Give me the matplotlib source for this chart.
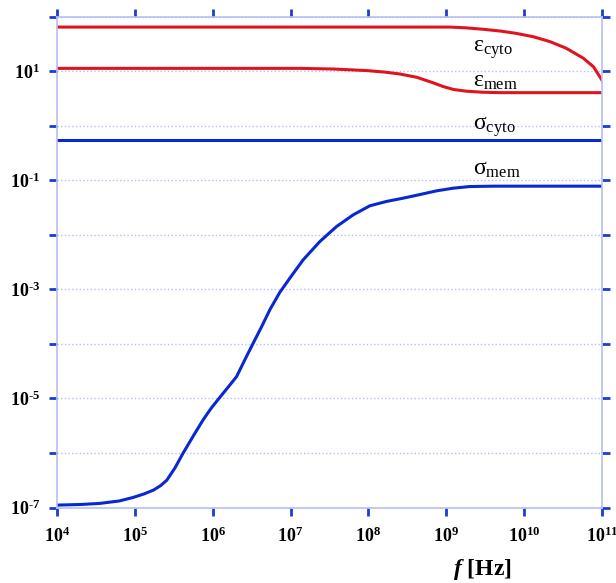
import numpy as np
import matplotlib
matplotlib.use("Agg")
import matplotlib.pyplot as plt

plt.rcParams['mathtext.fontset'] = 'custom'
plt.rcParams['mathtext.rm'] = 'Liberation Serif'
plt.rcParams['mathtext.it'] = 'Liberation Serif:italic'
plt.rcParams['mathtext.bf'] = 'Liberation Serif:bold'
plt.rcParams['mathtext.bfit'] = 'Liberation Serif:italic:bold'
plt.rcParams['font.family'] = 'Liberation Serif'

# values (log10 of frequency in Hz)
lf_eps_cyto = [4.0, 8.0, 9.05, 9.25, 9.47, 9.70, 9.90, 10.12, 10.33, 10.54, 10.76, 10.89, 11.0]
eps_cyto = [64, 64, 64, 62, 58.4, 54, 49, 42.5, 34.7, 26.2, 17.2, 12.0, 6.8]

lf_eps_mem = [4.0, 7.12, 7.55, 7.98, 8.20, 8.40, 8.62, 8.83, 8.96, 9.09, 9.26, 9.47, 9.69, 11.0]
eps_mem = [11.2, 11.2, 10.9, 10.2, 9.6, 8.85, 7.7, 6.1, 5.2, 4.6, 4.27, 4.09, 4.02, 4.02]

lf_sig_cyto = [4.0, 11.0]
sig_cyto = [0.54, 0.54]

lf_sig_mem = [4.0, 4.3, 4.55, 4.8, 4.98, 5.12, 5.24, 5.33, 5.41, 5.515, 5.621, 5.75,
              5.878, 5.98, 6.092, 6.2, 6.307, 6.41, 6.521, 6.63, 6.734, 6.86, 6.991,
              7.162, 7.376, 7.59, 7.804, 8.018, 8.232, 8.446, 8.66, 8.874, 9.088, 9.30,
              9.6, 11.0]
lsig_mem = [-6.956, -6.945, -6.925, -6.88, -6.815, -6.75, -6.68, -6.60, -6.50, -6.275,
            -6.0, -5.69, -5.39, -5.18, -4.98, -4.79, -4.60, -4.30, -3.985, -3.68,
            -3.375, -3.06, -2.795, -2.46, -2.125, -1.85, -1.636, -1.47, -1.39, -1.33,
            -1.264, -1.196, -1.147, -1.117, -1.11, -1.11]

x_pows = list(range(4, 12))
y_pows = list(range(-7, 3))

labels = [r'$\mathrm{ε_{cyto}}$', r'$\mathrm{ε_{mem}}$', r'$\mathrm{σ_{cyto}}$', r'$\mathrm{σ_{mem}}$']
label_ly = [1.355, 0.714, -0.079, -0.903]
label_lx = 9.34


def sup(p):
    s = str(p).replace('-', '\u2010')
    return r'$\mathbf{10^{%s}}$' % s


red = '#e0141e'
blue = '#0a28d2'
spine_col = '#b4c0f4'
tick_col = '#1e3cd2'

fig = plt.figure(figsize=(6.16, 5.83), dpi=100)
ax = fig.add_axes([57 / 616, 1 - 507.5 / 583, 545 / 616, 491 / 583])

ax.plot(10 ** np.array(lf_eps_cyto), eps_cyto, color=red, lw=2.2)
ax.plot(10 ** np.array(lf_eps_mem), eps_mem, color=red, lw=2.2)
ax.plot(10 ** np.array(lf_sig_cyto), sig_cyto, color=blue, lw=2.2)
ax.plot(10 ** np.array(lf_sig_mem), 10 ** np.array(lsig_mem), color=blue, lw=2.2)

ax.set_xscale('log')
ax.set_yscale('log')
ax.set_xlim(1e4, 1e11)
ax.set_ylim(1e-7, 1e2)

ax.set_xticks([10.0 ** p for p in x_pows])
ax.set_xticklabels([sup(p) for p in x_pows])
ax.set_yticks([10.0 ** p for p in y_pows])
ax.set_yticklabels([sup(p) if p % 2 != 0 and p < 2 else '' for p in y_pows])
ax.minorticks_off()
ax.tick_params(direction='out', length=6, width=2, color=tick_col,
               top=True, right=True, labelsize=13)
ax.tick_params(axis='x', pad=8)
ax.tick_params(axis='y', pad=6)

for s in ax.spines.values():
    s.set_color(spine_col)
    s.set_linewidth(1.2)

ax.grid(axis='y', color=spine_col, linestyle=':', lw=1)
ax.set_axisbelow(True)

for txt, ly in zip(labels, label_ly):
    ax.text(10 ** label_lx, 10 ** ly, txt, fontsize=17, va='baseline')

fig.text(482 / 616, 1 - 570 / 583, r'$\mathbfit{f}$ [Hz]', fontsize=17,
         fontweight='bold', ha='center', va='center')

fig.savefig('out.png', dpi=100)
